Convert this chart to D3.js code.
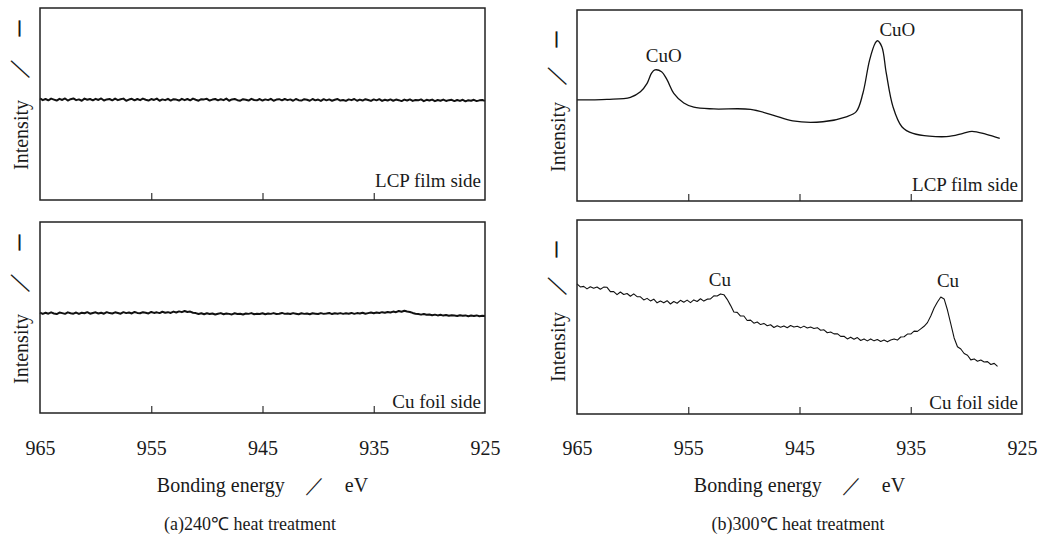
<!DOCTYPE html>
<html><head><meta charset="utf-8">
<script src="https://cdn.jsdelivr.net/npm/d3@7"></script>
<style>
body{margin:0;background:#fff}
svg{display:block}
text{font-family:"Liberation Serif","Times New Roman",serif;fill:#1a1a1a}
</style>
</head><body>
<svg id="c" width="1042" height="543"></svg>
<script>
// ---------------- DATA ----------------
const tickValues = [965, 955, 945, 935, 925];
const tickLabels = ["965", "955", "945", "935", "925"];
const xTitle = "Bonding energy\u3000／\u3000eV";
const yTitleParts = ["Intensity", "／", "—"];
const captions = ["(a)240℃ heat treatment", "(b)300℃ heat treatment"];
const sideLabels = ["LCP film side", "Cu foil side"];

// (a) 240°C : sampled every 0.25 eV from 965 eV
const gridA = d3.range(0, 161).map(i => 965 - 0.25 * i);
const a240LCP = [
52.9,52.0,52.6,51.9,52.8,52.3,51.8,52.7,52.1,52.9,
51.8,52.5,52.9,52.0,52.4,51.7,52.8,52.2,52.6,51.9,
52.7,52.1,52.9,51.8,52.4,52.6,51.9,52.8,52.0,52.5,
52.8,51.7,52.3,52.7,51.9,52.6,52.0,52.8,52.2,51.8,
52.6,52.1,52.8,51.7,52.4,52.0,52.7,51.8,52.5,52.3,
51.8,52.7,52.0,52.6,51.9,52.8,52.2,51.7,52.5,52.4,
52.7,51.8,52.3,52.6,51.9,52.5,52.0,52.8,51.7,52.4,
52.6,52.0,51.7,52.5,52.2,51.8,52.7,52.1,51.9,52.6,
51.8,52.4,52.0,52.7,51.7,52.3,52.5,51.9,52.6,52.0,
52.4,51.7,52.6,52.0,51.8,52.5,52.2,51.7,52.6,51.9,
52.3,51.6,52.5,51.9,52.4,51.7,52.2,52.6,51.8,52.1,
51.6,52.4,52.0,52.6,51.7,52.3,51.8,52.5,52.1,51.6,
52.4,51.9,52.5,51.6,52.2,51.8,52.4,51.7,52.3,52.0,
51.5,52.3,51.8,52.4,51.6,52.1,51.9,52.4,51.5,52.2,
51.8,52.3,51.5,52.1,51.7,52.3,51.6,52.0,52.2,51.5,
52.1,51.6,52.2,51.4,52.0,51.7,52.2,51.5,51.9,52.1,51.6];
const a240Cu = [
52.6,51.9,52.5,52.0,52.7,52.1,51.8,52.6,52.3,51.9,
52.7,52.2,52.0,52.6,51.9,52.5,52.2,52.8,52.0,52.4,
52.7,52.1,52.5,52.0,52.8,52.3,52.1,52.7,52.4,52.0,
52.8,52.3,52.6,52.1,52.9,52.4,52.2,52.8,52.5,52.1,
52.9,52.4,52.7,52.3,53.0,52.5,52.8,52.4,53.1,52.6,
53.2,52.8,53.4,52.9,53.1,52.5,52.3,51.8,52.2,51.7,
52.2,51.8,52.1,51.6,52.0,52.3,51.7,52.1,51.9,51.6,
52.2,51.8,52.0,51.6,52.1,51.9,52.3,51.7,52.0,51.8,
52.2,51.7,52.1,51.9,52.3,51.8,52.0,52.4,51.9,52.1,
51.8,52.3,52.0,51.7,52.2,51.9,52.1,51.7,52.2,52.0,
51.8,52.3,51.9,52.1,52.4,51.8,52.2,52.0,52.3,51.9,
52.2,52.0,52.4,51.9,52.3,52.1,52.5,52.0,52.3,52.6,
52.2,52.6,52.4,52.8,52.5,52.9,52.6,53.1,52.8,53.4,
53.0,53.5,53.1,52.9,52.4,52.0,51.8,51.5,51.8,51.4,
51.6,51.2,51.5,51.1,51.4,51.0,51.3,50.9,51.2,51.0,
50.8,51.2,50.9,51.1,50.7,51.0,50.8,51.1,50.7,50.9,50.8];

// (b) 300°C LCP film side
const b300LCPEnergy = [965,962.3,960.2,959.3,958.7,958.3,958.0,957.4,956.9,956.3,955.4,954.5,952.7,949.4,947.4,945.6,942.9,940.8,939.9,939.3,938.7,938.2,938.0,937.6,937.2,936.6,935.8,934.8,931.8,930.3,929.5,928.2,927.0];
const b300LCP = [52.9,53.2,54.3,57.2,61.6,66.9,68.6,67.7,63.4,56.4,51.3,49.1,48.2,48.0,45.0,41.9,41.5,44.1,46.8,56.4,73.8,82.6,83.9,80.8,66.9,49.4,38.9,35.4,33.7,35.4,36.5,34.9,32.8];

// (b) 300°C Cu foil side : sampled every 0.3 eV from 965 eV
const gridB = d3.range(0, 127).map(i => 965 - 0.3 * i);
const b300Cu = [
67.1,65.5,65.8,64.5,65.6,64.8,65.5,64.3,65.4,65.3,
63.1,63.1,61.5,62.9,61.6,62.1,60.7,61.9,60.5,60.4,
58.8,59.6,58.3,59.2,57.3,58.2,57.3,58.4,56.7,58.0,
57.1,58.6,57.6,58.7,57.4,58.8,58.0,59.4,58.2,59.2,
59.3,60.9,60.8,61.9,61.5,59.1,56.0,52.6,52.4,50.5,
50.5,48.2,48.4,46.8,47.4,46.1,46.7,45.5,46.0,44.6,
45.5,44.7,45.4,44.5,45.6,44.8,45.2,44.4,45.3,44.3,
44.8,44.1,44.5,43.2,43.4,41.9,42.3,41.3,41.4,40.0,
40.1,38.7,39.6,38.5,39.4,37.9,38.7,37.7,38.7,37.7,
38.4,37.4,38.1,37.2,38.1,38.7,38.1,39.7,39.8,41.2,
41.2,42.7,42.6,43.9,45.2,47.1,50.5,54.6,57.7,60.3,
59.3,53.6,46.4,39.2,34.7,33.5,31.2,30.3,27.9,28.4,
27.2,27.8,26.8,27.0,25.5,26.1,24.5];

const peakLabels = [
  {panel: 2, text: "CuO", e: 957.2, v: 72.8},
  {panel: 2, text: "CuO", e: 936.2, v: 86.4},
  {panel: 3, text: "Cu",  e: 952.15, v: 66.0},
  {panel: 3, text: "Cu",  e: 931.65, v: 65.5}
];

// ---------------- LAYOUT ----------------
const panels = [
  {x0: 40,  x1: 485,  y0: 8,   y1: 200, en: gridA, val: a240LCP, side: 0, lw: 2.0, curve: d3.curveLinear},
  {x0: 40,  x1: 485,  y0: 222, y1: 413, en: gridA, val: a240Cu,  side: 1, lw: 2.0, curve: d3.curveLinear},
  {x0: 577, x1: 1022, y0: 10,  y1: 201, en: b300LCPEnergy, val: b300LCP, side: 0, lw: 1.3, curve: d3.curveCatmullRom},
  {x0: 577, x1: 1022, y0: 220, y1: 414, en: gridB, val: b300Cu, side: 1, lw: 1.1, curve: d3.curveLinear}
];
const sideBaseline = [[187, 408], [191, 409]];
// y-title offsets from panel top: [intensity start, slash centre, dash bottom]
const yTitleOff = [[162, 60, 28], [162, 65, 37]];
const svg = d3.select("#c");

panels.forEach((p, k) => {
  const x = d3.scaleLinear().domain([965, 925]).range([p.x0, p.x1]);
  const y = d3.scaleLinear().domain([0, 100]).range([p.y1, p.y0]);
  p.x = x; p.y = y;
  const g = svg.append("g");
  const line = d3.line().x((d, i) => x(p.en[i])).y(d => y(d)).curve(p.curve);
  g.append("path").datum(p.val).attr("d", line)
    .attr("fill", "none").attr("stroke", "#111").attr("stroke-width", p.lw).attr("stroke-linejoin", "round");
  // ticks inside, bottom
  const ax = d3.axisBottom(x).tickValues([955, 945, 935]).tickSizeInner(-7).tickSizeOuter(0).tickFormat("");
  const ag = g.append("g").attr("transform", `translate(0,${p.y1})`).call(ax);
  ag.select(".domain").remove();
  ag.selectAll("line").attr("stroke", "#333").attr("stroke-width", 1.2);
  // frame
  g.append("rect").attr("x", p.x0).attr("y", p.y0).attr("width", p.x1 - p.x0).attr("height", p.y1 - p.y0)
    .attr("fill", "none").attr("stroke", "#222").attr("stroke-width", 1.5);
  // side label
  const col = p.x0 < 300 ? 0 : 1;
  g.append("text").attr("x", p.x1 - 4).attr("y", sideBaseline[col][p.side])
    .attr("text-anchor", "end").attr("font-size", 19).text(sideLabels[p.side]);
  // y title (rotated); text x = -screenY
  const off = yTitleOff[col];
  const t = g.append("text").attr("transform", `translate(${p.x0 - 12},0) rotate(-90)`)
    .attr("font-size", 20);
  t.append("tspan").attr("x", -(p.y0 + off[0])).text(yTitleParts[0]);
  t.append("tspan").attr("x", -(p.y0 + off[1] + 11)).attr("dy", -2).attr("font-size", 22).text(yTitleParts[1]);
  t.append("tspan").attr("x", -(p.y0 + off[2])).attr("dy", -3)
    .attr("font-size", 15).attr("stroke", "#1a1a1a").attr("stroke-width", 1.1).text(yTitleParts[2]);
});

// bottom axis labels for each column
[panels[1], panels[3]].forEach((p, c) => {
  const x = p.x;
  const ax = d3.axisBottom(x).tickValues(tickValues).tickSize(0)
    .tickFormat((d, i) => tickLabels[i]);
  const ag = svg.append("g").attr("transform", `translate(0,440)`).call(ax);
  ag.select(".domain").remove();
  ag.selectAll("text").attr("font-size", 20).attr("dy", 0).attr("y", 15)
    .style("font-family", '"Liberation Serif",serif').attr("fill", "#1a1a1a");
  svg.append("text").attr("x", (p.x0 + p.x1) / 2).attr("y", 492).attr("text-anchor", "middle")
    .attr("font-size", 20).text(xTitle);
  svg.append("text").attr("x", c === 0 ? 250 : 798).attr("y", 530).attr("text-anchor", "middle")
    .attr("font-size", 18).text(captions[c]);
});

peakLabels.forEach(l => {
  const p = panels[l.panel];
  svg.append("text").attr("x", p.x(l.e)).attr("y", p.y(l.v)).attr("text-anchor", "middle")
    .attr("font-size", 19).text(l.text);
});
</script>
</body></html>
